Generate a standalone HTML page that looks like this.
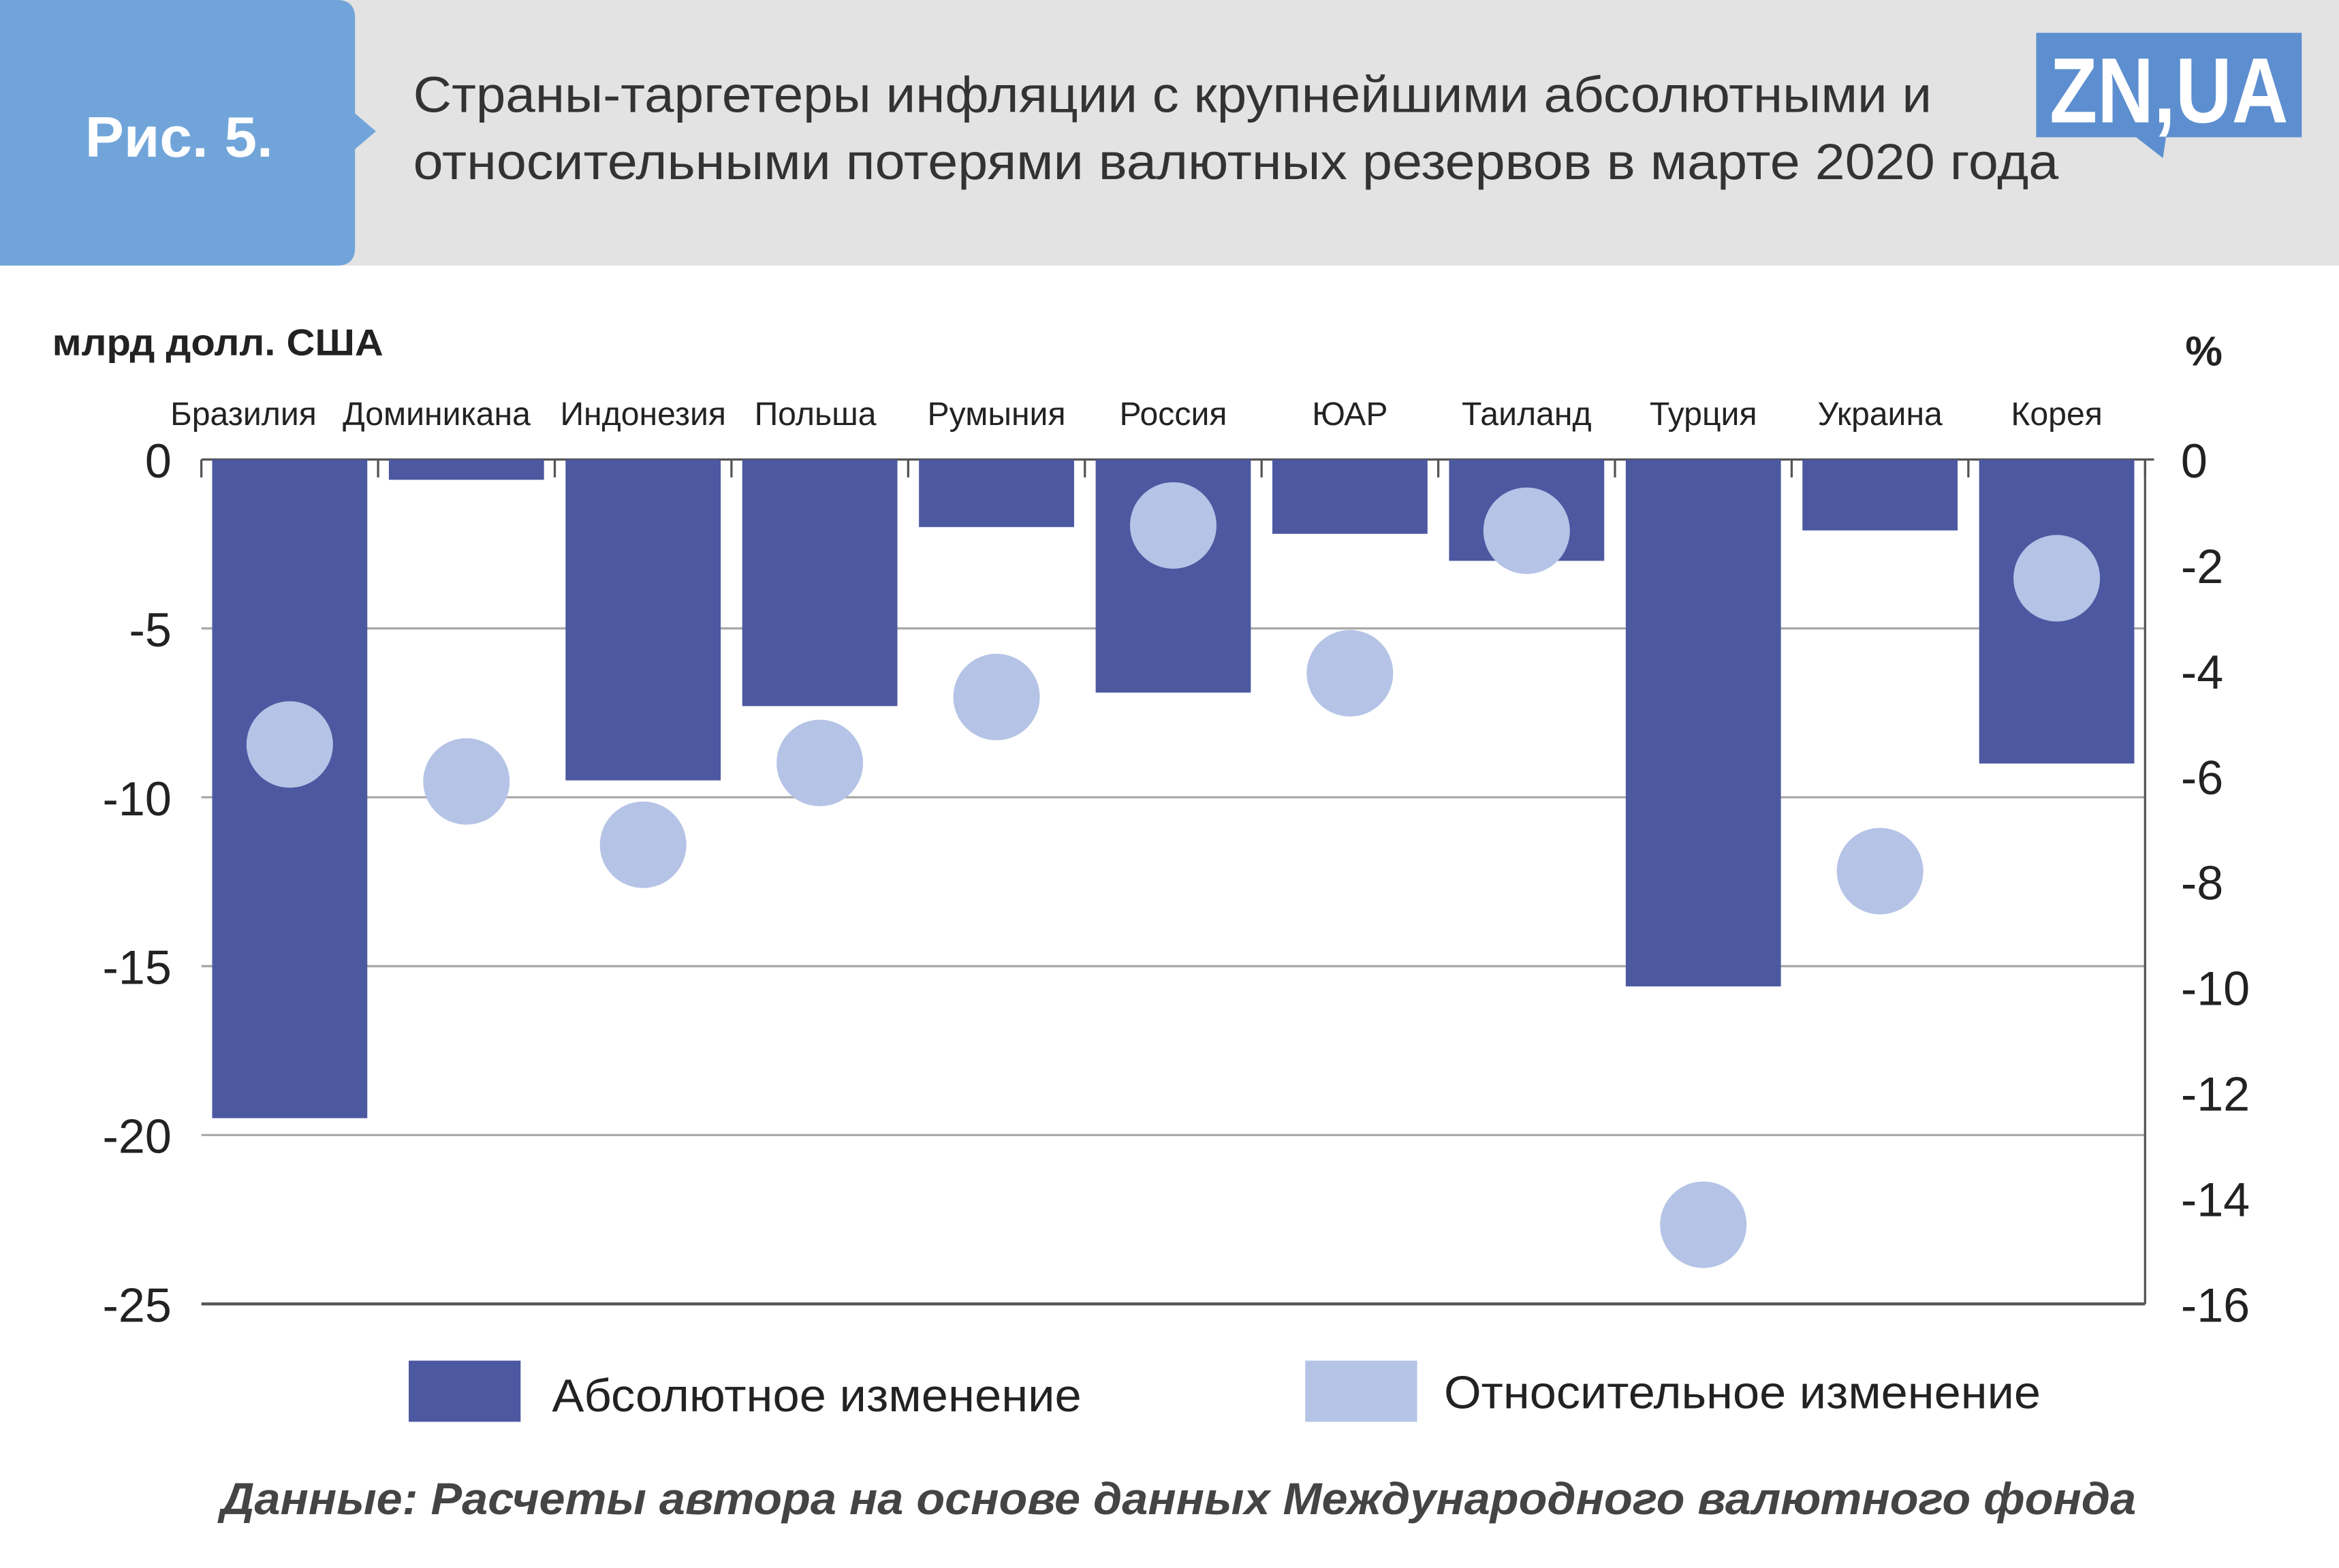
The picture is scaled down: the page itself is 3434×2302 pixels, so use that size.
<!DOCTYPE html>
<html><head><meta charset="utf-8"><style>
html,body{margin:0;padding:0;background:#fff;}
svg{display:block;}
text{font-family:"Liberation Sans",sans-serif;}
</style></head><body>
<svg id="chart" width="3434" height="2302" viewBox="0 0 1568 1051" preserveAspectRatio="none" xmlns="http://www.w3.org/2000/svg">
<rect x="0" y="0" width="1568" height="178" fill="#e3e3e3"/>
<path d="M0 0 H226 Q238 0 238 12 V76 L252 88 L238 100 V166 Q238 178 226 178 H0 Z" fill="#71a5da"/>
<text x="57" y="105" font-size="38" font-weight="bold" fill="#fff" textLength="126" lengthAdjust="spacingAndGlyphs">Рис. 5.</text>
<text font-size="34" fill="#333"><tspan x="277" y="75" textLength="1018" lengthAdjust="spacingAndGlyphs">Страны-таргетеры инфляции с крупнейшими абсолютными и</tspan><tspan x="277" y="120" textLength="1103" lengthAdjust="spacingAndGlyphs">относительными потерями валютных резервов в марте 2020 года</tspan></text>
<g>
<rect x="1365" y="22" width="178" height="70" fill="#5d8fd0"/>
<path d="M1432 92 L1450 106 L1452 92 Z" fill="#5d8fd0"/>
<text x="1454" y="82" font-size="62" font-weight="bold" fill="#fff" text-anchor="middle" textLength="160" lengthAdjust="spacingAndGlyphs">ZN,UA</text>
</g>
<text x="35" y="238" font-size="25" font-weight="bold" fill="#222" textLength="222" lengthAdjust="spacingAndGlyphs">млрд долл. США</text>
<text x="1465" y="245" font-size="28" font-weight="bold" fill="#222">%</text>
<g id="grid"></g><g id="bars"></g><g id="dots"></g><g id="labels"></g>
<g>
<rect x="274" y="912" width="75" height="41" fill="#4c58a0"/>
<text x="370" y="946" font-size="31" fill="#222" textLength="355" lengthAdjust="spacingAndGlyphs">Абсолютное изменение</text>
<rect x="875" y="912" width="75" height="41" fill="#b5c3e6"/>
<text x="968" y="944" font-size="31" fill="#222" textLength="400" lengthAdjust="spacingAndGlyphs">Относительное изменение</text>
</g>
<text x="148" y="1015" font-size="30" font-weight="bold" font-style="italic" fill="#444" textLength="1284" lengthAdjust="spacingAndGlyphs">Данные: Расчеты автора на основе данных Международного валютного фонда</text>
</svg>
<script>
const categories=["Бразилия","Доминикана","Индонезия","Польша","Румыния","Россия","ЮАР","Таиланд","Турция","Украина","Корея"];
const absValues=[-19.5,-0.6,-9.5,-7.3,-2,-6.9,-2.2,-3,-15.6,-2.1,-9];
const relValues=[-5.4,-6.1,-7.3,-5.75,-4.5,-1.25,-4.05,-1.35,-14.5,-7.8,-2.25];
const leftTicks=[0,-5,-10,-15,-20,-25];
const rightTicks=[0,-2,-4,-6,-8,-10,-12,-14,-16];
const labelShift=[-31,-20,0,-3,0,0,0,0,0,0,0];
const NS="http://www.w3.org/2000/svg";
const X0=135,X1=1438,Y0=308,Y1=874;
const yL=v=>Y0+(v/-25)*(Y1-Y0);
const yR=v=>Y0+(v/-16)*(Y1-Y0);
const bw=(X1-X0)/categories.length;
const xC=i=>X0+bw*(i+0.5);
function mk(tag,attrs,parent){const e=document.createElementNS(NS,tag);for(const k in attrs)e.setAttribute(k,attrs[k]);document.getElementById(parent).appendChild(e);return e;}
leftTicks.forEach((t,i)=>{
 if(i>0){const g=mk('line',{x1:X0,x2:X1,y1:yL(t),y2:yL(t),stroke:i===leftTicks.length-1?'#555':'#aaa','stroke-width':i===leftTicks.length-1?2:1.5},'grid');
 
 }
 const l=mk('text',{x:115,y:yL(t)+12,'font-size':32,fill:'#222','text-anchor':'end'},'labels');l.textContent=t;
 
 
});
rightTicks.forEach(t=>{
 const l=mk('text',{x:1462,y:yR(t)+12,'font-size':32,fill:'#222'},'labels');l.textContent=t;
 
 
});
const axLine=mk('line',{x1:X1,x2:X1,y1:Y0,y2:Y1,stroke:'#555','stroke-width':1.5},'grid');


const zeroLine=mk('line',{x1:X0,x2:X1+6,y1:Y0,y2:Y0,stroke:'#555','stroke-width':1.5},'grid');


for(let i=0;i<=categories.length;i++){
 const tk=mk('line',{x1:X0+bw*i,x2:X0+bw*i,y1:Y0,y2:Y0+12,stroke:'#555','stroke-width':1.5},'grid');
 
 
}
categories.forEach((c,i)=>{
 const b=mk('rect',{x:xC(i)-52,y:Y0,width:104,height:yL(absValues[i])-Y0,fill:'#4c58a0'},'bars');
 
 
 const d=mk('circle',{cx:xC(i),cy:yR(relValues[i]),r:29,fill:'#b5c3e6'},'dots');
 
 
 const l=mk('text',{x:xC(i)+labelShift[i],y:285,'font-size':22,fill:'#222','text-anchor':'middle'},'labels');l.textContent=c;
 
 
});
</script>
</body></html>
